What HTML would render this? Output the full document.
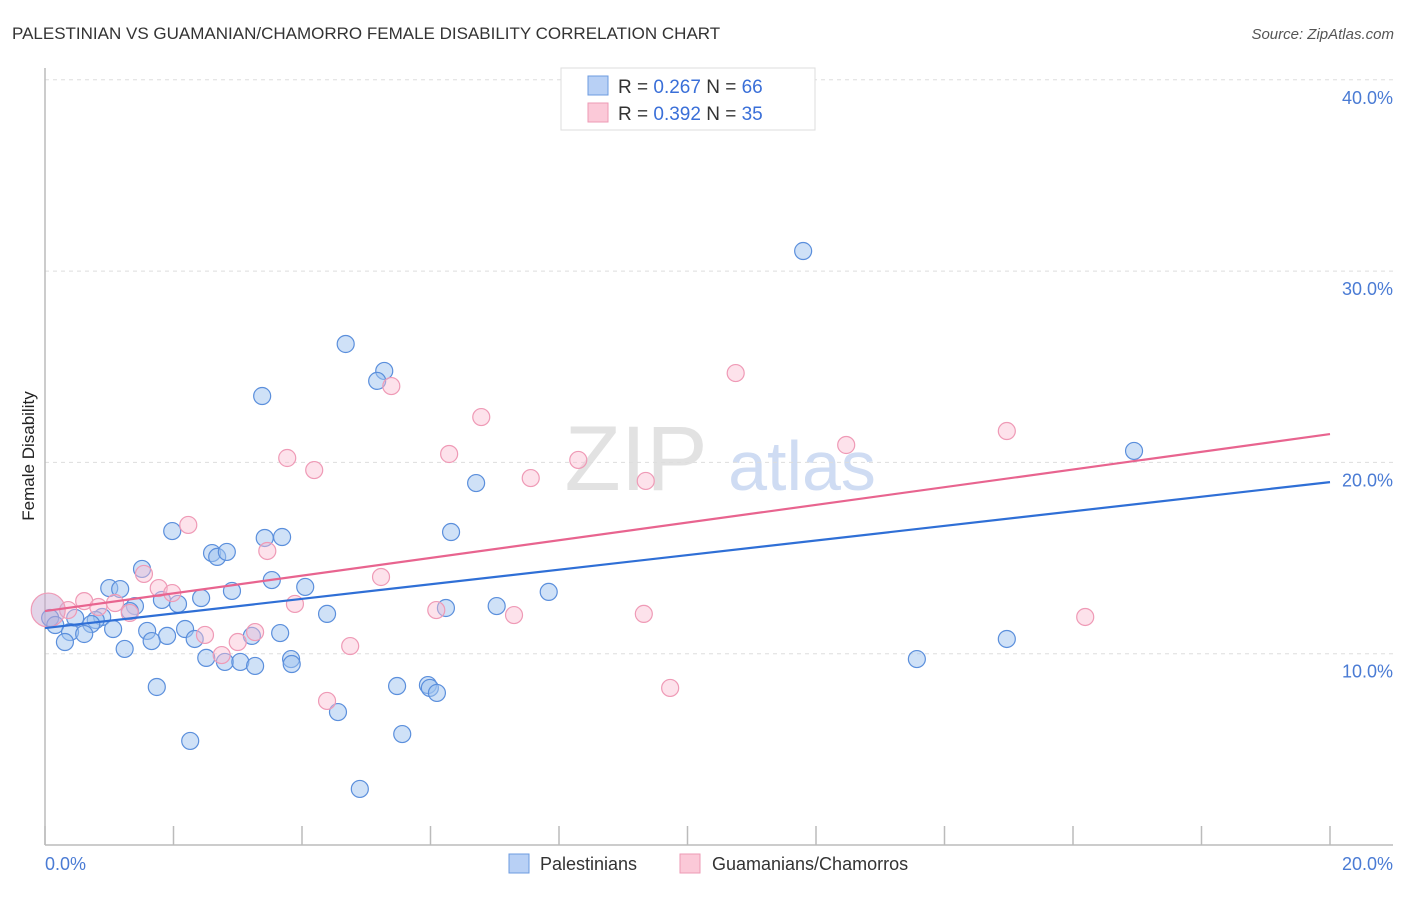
<!DOCTYPE html>
<html><head><meta charset="utf-8"><style>
body{margin:0;background:#fff;font-family:"Liberation Sans",sans-serif;}
svg text{font-family:"Liberation Sans",sans-serif;}
</style></head><body>
<svg id="chart" width="1406" height="892" viewBox="0 0 1406 892" xmlns="http://www.w3.org/2000/svg">
<text x="12" y="39" font-size="17" fill="#333">PALESTINIAN VS GUAMANIAN/CHAMORRO FEMALE DISABILITY CORRELATION CHART</text>
<text x="1394" y="39" font-size="15" fill="#555" text-anchor="end" font-style="italic">Source: ZipAtlas.com</text>
<g>
<text x="636" y="490" font-size="92" fill="#e2e2e2" text-anchor="middle" font-family="Liberation Serif,serif">ZIP</text>
<text x="802" y="490" font-size="70" fill="#cfdcf3" text-anchor="middle">atlas</text>
</g>
<g id="grid"></g>
<line x1="45" y1="68" x2="45" y2="845" stroke="#bbb" stroke-width="1.5"/>
<line x1="45" y1="845" x2="1393" y2="845" stroke="#bbb" stroke-width="1.5"/>
<g id="ticks"></g>
<text transform="translate(34,456) rotate(-90)" font-size="17" fill="#222" text-anchor="middle">Female Disability</text>
<text x="45" y="870" font-size="18" fill="#4a7bd4">0.0%</text>
<text x="1393" y="870" font-size="18" fill="#4a7bd4" text-anchor="end">20.0%</text>
<g id="pts"></g>
<g id="lines"></g>
<g>
<rect x="561" y="68" width="254" height="62" fill="#fff" stroke="#ddd"/>
<rect x="588" y="76" width="20" height="19" fill="#b8d0f5" stroke="#6c9be0"/>
<rect x="588" y="103" width="20" height="19" fill="#fbc9d8" stroke="#ee9ab5"/>
<text x="618" y="93" font-size="19" fill="#333">R = <tspan fill="#3a6fd8">0.267</tspan>   N = <tspan fill="#3a6fd8">66</tspan></text>
<text x="618" y="120" font-size="19" fill="#333">R = <tspan fill="#3a6fd8">0.392</tspan>   N = <tspan fill="#3a6fd8">35</tspan></text>
</g>
<g>
<rect x="509" y="854" width="20" height="19" fill="#b8d0f5" stroke="#6c9be0"/>
<text x="540" y="870" font-size="18" fill="#333">Palestinians</text>
<rect x="680" y="854" width="20" height="19" fill="#fbc9d8" stroke="#ee9ab5"/>
<text x="712" y="870" font-size="18" fill="#333">Guamanians/Chamorros</text>
</g>
</svg>
<script>
const blueX=[11.80,4.68,5.28,5.17,3.38,16.95,6.71,6.32,1.98,3.42,3.69,2.60,2.68,2.83,1.51,3.53,4.05,1.00,1.17,2.91,7.84,2.43,1.82,1.40,2.07,7.03,6.24,1.32,4.39,0.89,0.79,0.08,0.16,0.47,0.72,1.06,1.59,2.18,0.39,0.61,1.90,3.66,3.22,2.33,1.66,0.31,1.24,14.97,2.51,2.80,3.04,3.27,3.83,3.84,13.57,1.74,5.48,5.96,5.99,6.10,4.56,5.56,2.26,4.90];
const blueY=[31.05,26.19,24.78,24.26,23.47,20.60,18.92,16.36,16.41,16.05,16.10,15.26,15.06,15.32,14.43,13.85,13.49,13.43,13.38,13.28,13.23,12.91,12.81,12.49,12.60,12.49,12.39,12.23,12.08,11.92,11.76,11.87,11.50,11.87,11.55,11.29,11.19,11.29,11.13,11.03,10.93,11.08,10.93,10.77,10.66,10.61,10.25,10.77,9.78,9.57,9.57,9.36,9.72,9.46,9.72,8.26,8.31,8.36,8.21,7.95,6.95,5.80,5.44,2.93];
const pinkX=[10.75,5.39,6.79,14.97,12.47,6.29,3.77,4.19,8.30,7.56,9.35,2.23,3.46,1.54,5.23,1.77,1.98,0.61,1.09,3.89,0.83,0.36,1.32,6.09,7.30,9.32,16.19,2.49,3.27,3.00,2.75,4.75,9.73,4.39];
const pinkY=[24.67,23.99,22.37,21.64,20.91,20.44,20.23,19.60,20.13,19.18,19.03,16.73,15.37,14.17,14.01,13.43,13.17,12.75,12.65,12.60,12.44,12.28,12.13,12.28,12.02,12.08,11.92,10.98,11.13,10.61,9.93,10.40,8.21,7.53];
const bigPink=[0.05,12.28];
const blueTrend=[11.34,18.97];
const pinkTrend=[12.23,21.48];
const yTicks=[10,20,30,40];
const yTickLabels=["10.0%","20.0%","30.0%","40.0%"];
const xTicks=[0,2,4,6,8,10,12,14,16,18,20];
const NS="http://www.w3.org/2000/svg";
const sx=v=>45+v*64.25, sy=v=>845-v*19.13;
function mk(tag,attrs,parent){const e=document.createElementNS(NS,tag);for(const k in attrs)e.setAttribute(k,attrs[k]);parent.appendChild(e);return e;}
const grid=document.getElementById('grid'),ticks=document.getElementById('ticks'),pts=document.getElementById('pts'),lines=document.getElementById('lines');
yTicks.forEach((t,i)=>{
 const l=mk('line',{x1:45,x2:1393,y1:sy(t),y2:sy(t),stroke:'#ddd','stroke-dasharray':'4,4'},grid);
 
 
 const tx=mk('text',{x:1393,y:sy(t)+24,'font-size':18,fill:'#4a7bd4','text-anchor':'end'},grid);
 tx.textContent=yTickLabels[i];
 
 
});
xTicks.forEach(t=>{
 const l=mk('line',{x1:sx(t),x2:sx(t),y1:826,y2:845,stroke:'#bbb','stroke-width':1.5},ticks);
 
 
});
blueX.forEach((x,i)=>{
 const c=mk('circle',{cx:sx(x),cy:sy(blueY[i]),r:8.5,fill:'rgba(160,195,240,0.5)',stroke:'#5b8fdc','stroke-width':1.2},pts);
 
 
});
pinkX.forEach((x,i)=>{
 const c=mk('circle',{cx:sx(x),cy:sy(pinkY[i]),r:8.5,fill:'rgba(250,190,210,0.45)',stroke:'#ef9ab6','stroke-width':1.2},pts);
 
 
});
const bp=mk('circle',{cx:sx(bigPink[0]),cy:sy(bigPink[1]),r:17,fill:'rgba(200,170,210,0.5)',stroke:'#ef9ab6','stroke-width':1.2},pts);


const bl=mk('line',{x1:sx(0),y1:sy(blueTrend[0]),x2:sx(20),y2:sy(blueTrend[1]),stroke:'#2f6fd6','stroke-width':2.2},lines);


const pl=mk('line',{x1:sx(0),y1:sy(pinkTrend[0]),x2:sx(20),y2:sy(pinkTrend[1]),stroke:'#e8648f','stroke-width':2.2},lines);


</script>
</body></html>
